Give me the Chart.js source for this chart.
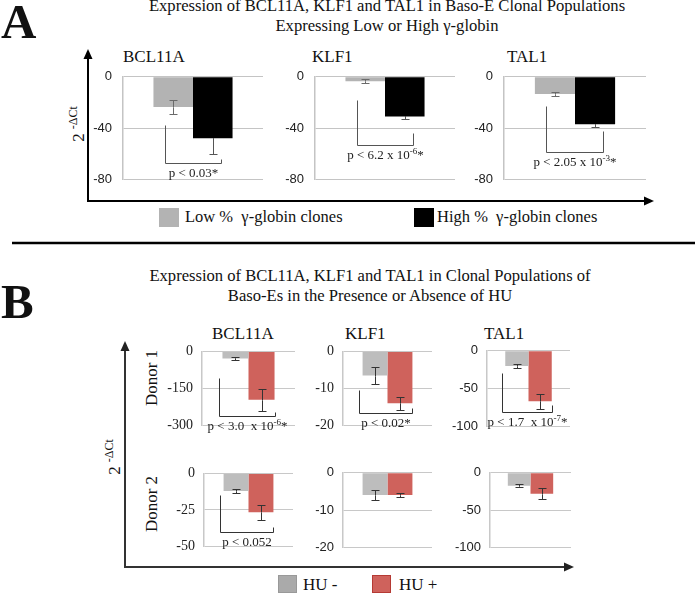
<!DOCTYPE html>
<html>
<head>
<meta charset="utf-8">
<title>BCL11A, KLF1 and TAL1 expression</title>
<script src="https://cdn.jsdelivr.net/npm/chart.js@4.4.1/dist/chart.umd.min.js"></script>
<style>
  body { margin: 0; width: 695px; height: 594px; position: relative; overflow: hidden; background: #fff;
         font-family: 'Liberation Serif', 'Times New Roman', serif; color: #111; }
  .t { position: absolute; white-space: nowrap; line-height: 1; }
  .c { transform: translateX(-50%); }
  .r { transform: translate(-50%, -50%) rotate(-90deg); }
  .sq { position: absolute; }
  canvas { position: absolute; }
  svg { position: absolute; left: 0; top: 0; }
</style>
</head>
<body>
<svg width="695" height="594">
  <!-- panel A axes -->
  <line x1="88" y1="201" x2="645" y2="201" stroke="#000" stroke-width="2"/>
  <polygon points="654,201 644,196.5 644,205.5" fill="#000"/>
  <line x1="88" y1="202" x2="88" y2="58" stroke="#000" stroke-width="2"/>
  <polygon points="88,49 83.5,59 92.5,59" fill="#000"/>
  <!-- separator -->
  <line x1="12" y1="243" x2="695" y2="243" stroke="#000" stroke-width="2.5"/>
  <!-- panel B axes -->
  <line x1="124" y1="567" x2="565" y2="567" stroke="#333" stroke-width="2"/>
  <polygon points="574,567 564,562.5 564,571.5" fill="#222"/>
  <line x1="125" y1="568" x2="125" y2="350" stroke="#333" stroke-width="2"/>
  <polygon points="125,341 120.5,351 129.5,351" fill="#222"/>
</svg>

<div class="t" style="left:1px;top:-3px;font-size:49px;font-weight:bold">A</div>
<div class="t c" style="left:387px;top:-2px;font-size:16.6px">Expression of BCL11A, KLF1 and TAL1 in Baso-E Clonal Populations</div>
<div class="t c" style="left:387px;top:18px;font-size:16.6px">Expressing Low or High γ-globin</div>
<div class="t r" style="left:77px;top:124px"><span style="font-size:17px">2</span> <sup style="font-size:12px">-ΔCt</sup></div>
<div class="t" style="left:123px;top:48px;font-size:17px">BCL11A</div>
<div class="t" style="left:312px;top:48px;font-size:17px">KLF1</div>
<div class="t" style="left:507px;top:48px;font-size:17px">TAL1</div>
<div class="sq" style="left:159px;top:208px;width:20px;height:19px;background:#b3b3b3"></div>
<div class="t" style="left:185px;top:209px;font-size:16.5px">Low %&nbsp; γ-globin clones</div>
<div class="sq" style="left:414px;top:208px;width:20px;height:19px;background:#000"></div>
<div class="t" style="left:437px;top:209px;font-size:16.5px">High %&nbsp; γ-globin clones</div>

<div class="t" style="left:1px;top:277px;font-size:49px;font-weight:bold">B</div>
<div class="t c" style="left:370px;top:268px;font-size:16.6px">Expression of BCL11A, KLF1 and TAL1 in Clonal Populations of</div>
<div class="t c" style="left:370px;top:288px;font-size:16.6px">Baso-Es in the Presence or Absence of HU</div>
<div class="t r" style="left:113px;top:457px"><span style="font-size:17px">2</span> <sup style="font-size:12px">-ΔCt</sup></div>
<div class="t r" style="left:151px;top:378px;font-size:17px">Donor 1</div>
<div class="t r" style="left:151px;top:504px;font-size:17px">Donor 2</div>
<div class="t" style="left:212px;top:325px;font-size:17px">BCL11A</div>
<div class="t" style="left:345px;top:325px;font-size:17px">KLF1</div>
<div class="t" style="left:484px;top:325px;font-size:17px">TAL1</div>
<div class="sq" style="left:278px;top:575px;width:19px;height:18px;background:#aaaaaa;box-sizing:border-box;border:1px solid #999"></div>
<div class="t" style="left:303px;top:576px;font-size:17px">HU -</div>
<div class="sq" style="left:372px;top:575px;width:19px;height:18px;background:#cf625c;box-sizing:border-box;border:1.5px solid #b53a34"></div>
<div class="t" style="left:399px;top:576px;font-size:17px">HU +</div>

<script>
// genes shown in every row
const genes = ['BCL11A', 'KLF1', 'TAL1'];

// Panel A: Baso-E clones with low / high gamma-globin
const lowGamma = [-23.5, -3.5, -13.5];
const lowGammaErr = [5.5, 1.7, 1.7];
const highGamma = [-48, -31, -37];
const highGammaErr = [12, 2, 2];
const yMinA = [-80, -80, -80];
const pA = ['p < 0.03*', 'p < 6.2 x 10^-6*', 'p < 2.05 x 10^-3*'];
// bracket: [left leg top, bottom, right leg top] in axis units
const bracketA = [[-38, -67.5, -64], [-18, -53, -44], [-23, -58.5, -42.5]];

// Panel B: HU - / HU +, donor 1 and donor 2
const huMinus1 = [-28.5, -6.5, -20];
const huMinus1Err = [5, 2.2, 2.2];
const huPlus1 = [-195, -14, -67];
const huPlus1Err = [44, 1.8, 10];
const huMinus2 = [-12, -6, -17.5];
const huMinus2Err = [1.1, 1.3, 2.2];
const huPlus2 = [-26.5, -6, -28];
const huPlus2Err = [5, 0.6, 7];
const yMinB1 = [-300, -20, -100];
const yMinB2 = [-50, -20, -100];
const pB1 = ['p < 3.0  x 10^-6*', 'p < 0.02*', 'p < 1.7  x 10^-7*'];
const pB2 = ['p < 0.052', null, null];
const bracketB1 = [[-108, -263, -246], [-10.3, -16.6, -15.3], [-29, -81, -72]];
const bracketB2 = [[-14.8, -40.3, -36.4], null, null];

// p-value text with an optional superscript exponent (written as ^-6)
function drawP(ctx, s, cx, top, size) {
  const m = s.match(/^(.*?)\^(-?\d+)(.*)$/);
  const parts = m ? [[m[1], size, 0], [m[2], size * 0.7, -size * 0.38], [m[3], size, 0]] : [[s, size, 0]];
  let w = 0;
  parts.forEach(p => {
    ctx.font = p[1] + "px 'Liberation Serif'";
    p.push(ctx.measureText(p[0]).width);
    w += p[3];
  });
  let x = cx - w / 2;
  ctx.fillStyle = '#222';
  ctx.textAlign = 'left';
  ctx.textBaseline = 'alphabetic';
  parts.forEach(p => {
    ctx.font = p[1] + "px 'Liberation Serif'";
    ctx.fillText(p[0], x, top + size * 0.8 + p[2]);
    x += p[3];
  });
}

function seg(ctx, color, x, ya, yb) {
  ctx.strokeStyle = color;
  ctx.beginPath();
  ctx.moveTo(x, ya); ctx.lineTo(x, yb);
  ctx.stroke();
}

// error bars + significance bracket
const extras = {
  id: 'extras',
  afterDatasetsDraw(chart, args, o) {
    const ctx = chart.ctx, ys = chart.scales.y;
    ctx.save();
    ctx.lineWidth = 1;
    chart.data.datasets.forEach((ds, i) => {
      const bar = chart.getDatasetMeta(i).data[0];
      const v = ds.data[0], e = ds.err[0];
      const x = Math.round(bar.x) + 0.5;
      const yIn = Math.round(ys.getPixelForValue(v + e)) + 0.5;
      const yV = Math.round(ys.getPixelForValue(v)) + 0.5;
      const yOut = Math.round(ys.getPixelForValue(v - e)) + 0.5;
      // part inside the bar, then the part below it
      seg(ctx, ds.errInner, x, yIn, yV);
      ctx.beginPath();
      ctx.moveTo(x - o.cap, yIn); ctx.lineTo(x + o.cap, yIn);
      ctx.stroke();
      seg(ctx, ds.errColor, x, yV, yOut);
      ctx.beginPath();
      ctx.moveTo(x - o.cap, yOut); ctx.lineTo(x + o.cap, yOut);
      ctx.stroke();
    });
    if (o.bracket) {
      const b0 = chart.getDatasetMeta(0).data[0], b1 = chart.getDatasetMeta(1).data[0];
      const bw = b0.width;
      const xl = Math.round(b0.x + o.legL * bw) + 0.5;
      const xr = Math.round(b1.x + o.legR * bw) + 0.5;
      const [t1, bot, t2] = o.bracket.map(v => Math.round(ys.getPixelForValue(v)) + 0.5);
      ctx.strokeStyle = o.bracketColor;
      ctx.beginPath();
      ctx.moveTo(xl, t1); ctx.lineTo(xl, bot); ctx.lineTo(xr, bot); ctx.lineTo(xr, t2);
      ctx.stroke();
      drawP(ctx, o.p, (xl + xr) / 2, bot + 3, o.pSize);
    }
    ctx.restore();
  }
};

function addChart(cfg) {
  const padTop = 10, padBottom = 10, padRight = 4;
  const cv = document.createElement('canvas');
  cv.width = cfg.yw + cfg.plotW + padRight;
  cv.height = cfg.bottom - cfg.zero + padTop + padBottom;
  cv.style.left = (cfg.left - cfg.yw) + 'px';
  cv.style.top = (cfg.zero - padTop) + 'px';
  document.body.appendChild(cv);
  new Chart(cv, {
    type: 'bar',
    data: { labels: [cfg.gene], datasets: cfg.datasets },
    options: {
      responsive: false,
      animation: false,
      events: [],
      layout: { padding: { top: padTop, bottom: padBottom, left: 0, right: padRight } },
      datasets: { bar: { categoryPercentage: cfg.catPct, barPercentage: 1 } },
      scales: {
        x: { display: false },
        y: {
          min: cfg.min, max: 0,
          afterFit: s => { s.width = cfg.yw; },
          ticks: { stepSize: -cfg.min / 2, padding: cfg.tickPad, color: '#222', font: cfg.tickFont },
          grid: { color: cfg.gridColor, drawTicks: false },
          border: { color: cfg.gridColor, width: 1.5 }
        }
      },
      plugins: {
        legend: { display: false },
        tooltip: { enabled: false },
        extras: {
          cap: cfg.cap, bracket: cfg.bracket, p: cfg.p, pSize: 13,
          legL: cfg.legL, legR: cfg.legR, bracketColor: cfg.bracketColor
        }
      }
    },
    plugins: [extras]
  });
}

const sans = { family: "'Liberation Sans'", size: 13 };
const serif = { family: "'Liberation Serif'", size: 14 };

// panel A charts
const plotA = [{ left: 123, w: 140 }, { left: 315, w: 140 }, { left: 504, w: 142 }];
genes.forEach((g, i) => addChart({
  gene: g, left: plotA[i].left, plotW: plotA[i].w, zero: 68, bottom: 188, yw: 40,
  min: yMinA[i], tickPad: 11, tickFont: sans, gridColor: '#c4c4c4', catPct: 0.565, cap: 4,
  bracket: bracketA[i], p: pA[i], legL: -0.22, legR: 0.2, bracketColor: '#555',
  datasets: [
    { label: 'Low %  γ-globin clones', data: [lowGamma[i]], err: [lowGammaErr[i]],
      errColor: '#6a6a6a', errInner: '#6a6a6a', backgroundColor: '#b3b3b3' },
    { label: 'High %  γ-globin clones', data: [highGamma[i]], err: [highGammaErr[i]],
      errColor: '#555555', errInner: '#000000', backgroundColor: '#000000' }
  ]
}));

// panel B charts
const rowsB = [
  { zero: 344, bottom: 433, plots: [{ left: 202, w: 93 }, { left: 343, w: 89 }, { left: 487, w: 83 }],
    minus: huMinus1, minusErr: huMinus1Err, plus: huPlus1, plusErr: huPlus1Err, mins: yMinB1, p: pB1, br: bracketB1,
    fonts: [serif, serif, sans] },
  { zero: 466, bottom: 554, plots: [{ left: 204, w: 89 }, { left: 343, w: 89 }, { left: 490, w: 81 }],
    minus: huMinus2, minusErr: huMinus2Err, plus: huPlus2, plusErr: huPlus2Err, mins: yMinB2, p: pB2, br: bracketB2,
    fonts: [serif, sans, sans] }
];
rowsB.forEach(row => genes.forEach((g, i) => addChart({
  gene: g, left: row.plots[i].left, plotW: row.plots[i].w, zero: row.zero, bottom: row.bottom, yw: 40,
  min: row.mins[i], tickPad: 9, tickFont: row.fonts[i], gridColor: '#c8c8c8', catPct: 0.56, cap: 4,
  bracket: row.br[i], p: row.p[i], legL: -0.65, legR: 0.5, bracketColor: '#333',
  datasets: [
    { label: 'HU -', data: [row.minus[i]], err: [row.minusErr[i]],
      errColor: '#333', errInner: '#333', backgroundColor: '#bdbdbd' },
    { label: 'HU +', data: [row.plus[i]], err: [row.plusErr[i]],
      errColor: '#333', errInner: '#333', backgroundColor: '#cf625c' }
  ]
})));
</script>
</body>
</html>
